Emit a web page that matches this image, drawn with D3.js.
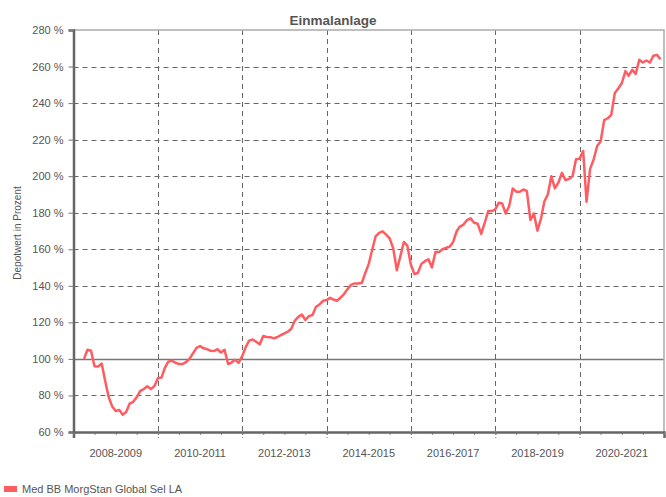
<!DOCTYPE html>
<html>
<head>
<meta charset="utf-8">
<script src="https://cdn.jsdelivr.net/npm/d3@7"></script>
<style>
body{margin:0;background:#fff;}
text{font-family:"Liberation Sans",Arial,sans-serif;fill:#555;}
</style>
</head>
<body>
<div id="chart"></div>
<script>
// monthly values, first month 2008-04
var seriesName = "Med BB MorgStan Global Sel LA";
var startMonth = "2008-04";
var values = [100,105,104.5,96,95.8,97.5,88,79,74,71.5,72,69.5,71,75.5,76.5,79,82.5,83.5,85,83.5,85,
89.4,89.8,95,98.5,99,98,97.2,97.2,98.2,100,103,106,107,105.8,105.4,104.5,104.3,105.3,103.5,105,
97.2,98,99.5,97.8,101.5,106.5,110,110.6,109.4,108,112.5,112,111.9,111.2,112,113,114,115,116.5,
121,123,124.3,121.3,123.4,124,128.5,129.8,131.8,132.2,133.4,132.5,131.8,133.5,135.5,138.2,140.5,
141.3,141.3,141.5,146.8,152,160,167,169,169.8,168,166,160.5,148.5,156,164,162,151.5,146.4,147,
152,153.5,154.5,150,158.5,158.5,160,160.8,161.4,164,170,172.4,173.5,176,176.9,174.5,174,168.4,
174.5,180.9,180.9,181.8,185.5,185.1,179.6,183.6,193.3,191.5,191.5,192.7,192,176,179.6,170.2,
176.9,186,190,200,193.3,196.4,201.8,197.8,198.5,200,209.3,209.6,213.8,186,204,209,216.5,219,
230.7,231.7,233.5,245.5,248,251,257.5,255,258.2,256,263.7,262.2,263.3,262.2,265.9,266.4,264];
var yTicks = [60,80,100,120,140,160,180,200,220,240,260,280];
var periodLabels = ["2008-2009","2010-2011","2012-2013","2014-2015","2016-2017","2018-2019","2020-2021"];
var periodStarts = [2008,2010,2012,2014,2016,2018,2020,2022];

var w = 666, h = 497;
var plot = {left: 73.5, right: 664, top: 30, bottom: 432};

var parseMonth = d3.timeParse("%Y-%m");
var start = parseMonth(startMonth);
var data = values.map(function(v, i){ return {date: d3.timeMonth.offset(start, i), value: v}; });

var x = d3.scaleTime()
  .domain([new Date(2008,0,1), new Date(2022,0,1)])
  .range([plot.left, plot.right]);
var y = d3.scaleLinear().domain([60,280]).range([plot.bottom, plot.top]);

var svg = d3.select("#chart").append("svg")
  .attr("width", w).attr("height", h);

// horizontal grid
svg.append("g").selectAll("line")
  .data(yTicks.filter(function(t){ return t > 60 && t < 280; }))
  .enter().append("line")
  .attr("x1", plot.left).attr("x2", plot.right)
  .attr("y1", function(d){ return Math.round(y(d)) + 0.5; })
  .attr("y2", function(d){ return Math.round(y(d)) + 0.5; })
  .attr("stroke", function(d){ return d == 100 ? "#777" : "#666"; })
  .attr("stroke-width", function(d){ return d == 100 ? 1.5 : 1; })
  .attr("stroke-dasharray", function(d){ return d == 100 ? null : "5,4"; });

// vertical grid
var yearDates = periodStarts.map(function(yr){ return new Date(yr,0,1); });
svg.append("g").selectAll("line")
  .data(yearDates.slice(1, -1))
  .enter().append("line")
  .attr("x1", function(d){ return Math.round(x(d)) + 0.5; })
  .attr("x2", function(d){ return Math.round(x(d)) + 0.5; })
  .attr("y1", plot.top).attr("y2", plot.bottom)
  .attr("stroke", "#666")
  .attr("stroke-dasharray", "5,4");

// frame top / right
svg.append("path")
  .attr("d", "M" + plot.left + "," + plot.top + "H" + plot.right + "V" + plot.bottom)
  .attr("fill", "none").attr("stroke", "#aaa").attr("stroke-width", 1.5);

// y axis
var yAxis = d3.axisLeft(y).tickValues(yTicks).tickSize(5).tickPadding(5)
  .tickFormat(function(d){ return d + " %"; });
var ya = svg.append("g").attr("transform", "translate(" + plot.left + ",0)").call(yAxis);
ya.select(".domain").attr("stroke", "#666").attr("stroke-width", 2.5);
ya.selectAll(".tick line").attr("stroke", "#777");
ya.selectAll(".tick text").style("font-size", "11px").attr("fill", "#555")
  .style("font-family", "Liberation Sans, Arial, sans-serif");

// x axis, minor ticks each half year
var xMinor = d3.axisBottom(x).ticks(d3.timeMonth.every(6)).tickSize(3).tickFormat("");
var xm = svg.append("g").attr("transform", "translate(0," + plot.bottom + ")").call(xMinor);
xm.select(".domain").remove();
xm.selectAll(".tick line").attr("stroke", "#888");

var xAxis = d3.axisBottom(x).tickValues(yearDates).tickSize(6).tickFormat("");
var xa = svg.append("g").attr("transform", "translate(0," + plot.bottom + ")").call(xAxis);
xa.select(".domain").attr("stroke", "#666").attr("stroke-width", 2.5);
xa.selectAll(".tick line").attr("stroke", "#777").attr("stroke-dasharray", "3,2");

svg.append("g").selectAll("text")
  .data(periodLabels)
  .enter().append("text")
  .attr("x", function(d, i){ return (x(yearDates[i]) + x(yearDates[i+1])) / 2; })
  .attr("y", 457)
  .attr("text-anchor", "middle")
  .style("font-size", "11px")
  .text(function(d){ return d; });

// line
var line = d3.line()
  .x(function(d){ return x(d.date); })
  .y(function(d){ return y(d.value); });
svg.append("path")
  .datum(data)
  .attr("d", line)
  .attr("fill", "none")
  .attr("stroke", "#ff5c62")
  .attr("stroke-width", 2.5)
  .attr("stroke-linejoin", "round");

// labels
svg.append("text")
  .text("Einmalanlage")
  .attr("x", w/2).attr("y", 25)
  .attr("text-anchor", "middle")
  .style("font-size", "13.5px").style("font-weight", "bold");

svg.append("text")
  .text("Depotwert in Prozent")
  .attr("transform", "translate(21,233) rotate(-90)")
  .attr("text-anchor", "middle")
  .style("font-size", "10px");

// legend
svg.append("rect")
  .attr("x", 4).attr("y", 486).attr("width", 13).attr("height", 6)
  .attr("fill", "#ff5c62");
svg.append("text")
  .text(seriesName)
  .attr("x", 22).attr("y", 493)
  .style("font-size", "11px");
</script>
</body>
</html>
